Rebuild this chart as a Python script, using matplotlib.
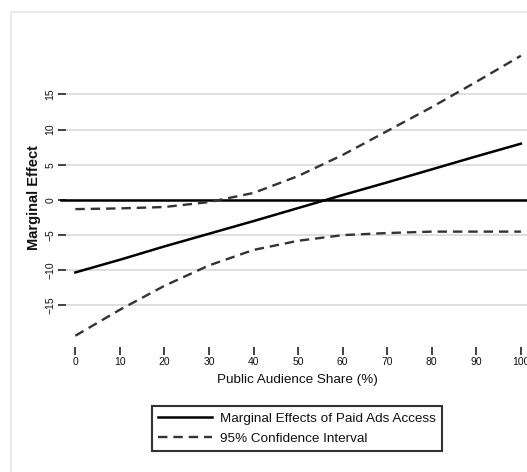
import matplotlib
matplotlib.use("Agg")
import matplotlib.pyplot as plt
from matplotlib.patches import Rectangle

# public audience share (%)
share = [0, 10, 20, 30, 40, 50, 60, 70, 80, 90, 100]
# marginal effect of paid ads access and its 95% bounds
effect = [-10.3, -8.5, -6.6, -4.8, -3.0, -1.15, 0.7, 2.5, 4.35, 6.2, 8.0]
ci_low = [-19.3, -15.6, -12.2, -9.3, -7.1, -5.8, -5.0, -4.7, -4.5, -4.5, -4.5]
ci_high = [-1.3, -1.2, -1.0, -0.3, 1.0, 3.4, 6.4, 9.8, 13.2, 16.8, 20.5]

x_ticks = [0, 10, 20, 30, 40, 50, 60, 70, 80, 90, 100]
y_ticks = [-15, -10, -5, 0, 5, 10, 15]

plt.rcParams['font.family'] = ['Liberation Sans', 'DejaVu Sans']

W, H = 527, 472
fig = plt.figure(figsize=(W / 100, H / 100), dpi=100)

# faint outer graph region frame
fig.patches.append(Rectangle((11 / W, -0.05), 1.1, 1 - 12 / H + 0.05,
                             transform=fig.transFigure, fill=False,
                             edgecolor='#e4e4e4', linewidth=1.2))

ax = fig.add_axes([66 / W, 1 - 347 / H, 1 - 66 / W + 0.002, (347 - 48) / H])
ax.set_xlim(-2.1, 101.6)
ax.set_ylim(-20.9, 21.6)
ax.patch.set_alpha(0)

for s in ax.spines.values():
    s.set_visible(False)

ax.set_yticks(y_ticks)
ax.set_xticks(x_ticks)
ax.yaxis.grid(True, color='#d6d6d6', linewidth=1.1)
ax.set_axisbelow(True)
ax.tick_params(axis='both', direction='out', length=5.5, width=1.2,
               color='#222222', labelsize=7.5, labelcolor='#111111')
ax.tick_params(axis='y', pad=2)
ax.tick_params(axis='x', pad=1.5)
for lab in ax.get_yticklabels():
    lab.set_rotation(90)
    lab.set_va('center')

ax.axhline(0, color='black', linewidth=1.8, xmin=-0.01, clip_on=False)
me_line, = ax.plot(share, effect, color='black', linewidth=1.8)
ci_line, = ax.plot(share, ci_low, color='#333333', linewidth=1.7,
                   dashes=(4, 2.5))
ax.plot(share, ci_high, color='#333333', linewidth=1.7, dashes=(4, 2.5))

ax.set_xlabel('Public Audience Share (%)', fontsize=9.7, labelpad=5,
              color='#111111')
ax.set_ylabel('Marginal Effect', fontsize=10.5, fontweight='bold',
              labelpad=3, color='#111111')

leg = fig.legend([me_line, ci_line],
                 ['Marginal Effects of Paid Ads Access', '95% Confidence Interval'],
                 loc='center', bbox_to_anchor=(297 / W, 1 - 428.5 / H),
                 fontsize=9.7, frameon=True, fancybox=False, handlelength=4.0,
                 borderpad=0.45, labelspacing=0.55, handletextpad=0.6,
                 borderaxespad=0)
leg.get_frame().set_edgecolor('black')
leg.get_frame().set_linewidth(1.5)
for t in leg.get_texts():
    t.set_color('#111111')

fig.savefig('out.png', dpi=100)
